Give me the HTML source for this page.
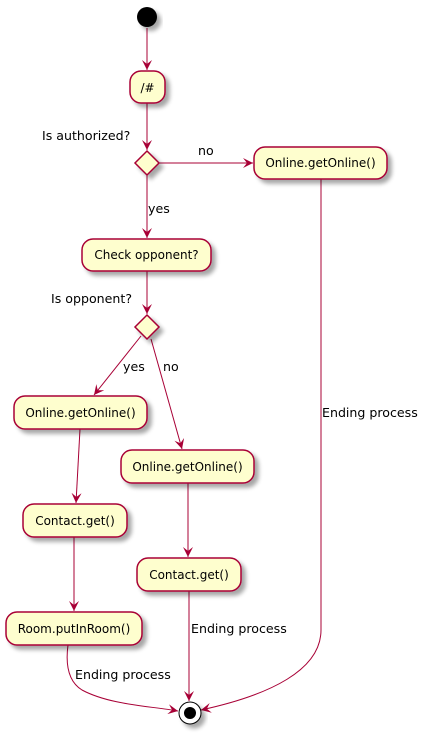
<!DOCTYPE html>
<html><head><meta charset="utf-8"><style>
html,body{margin:0;padding:0;background:#fff;}
svg text{font-family:"DejaVu Sans","Liberation Sans",sans-serif;}
</style></head><body>
<svg width="430" height="735" viewBox="0 0 430 735" xmlns="http://www.w3.org/2000/svg">
<defs>
<filter id="sh" x="-20%" y="-20%" width="150%" height="160%"><feGaussianBlur in="SourceAlpha" stdDeviation="2"/><feOffset dx="4" dy="4"/><feComponentTransfer><feFuncA type="linear" slope="0.35"/></feComponentTransfer><feMerge><feMergeNode/><feMergeNode in="SourceGraphic"/></feMerge></filter>
<marker id="ar" markerWidth="12" markerHeight="12" refX="10" refY="5" orient="auto" markerUnits="userSpaceOnUse"><path d="M0,0 L10,5 L0,10 L4,5 Z" fill="#A80036"/></marker>
</defs>
<g stroke="#A80036" stroke-width="1" fill="none">
<line x1="147" y1="28" x2="147" y2="70" marker-end="url(#ar)"/>
<line x1="147" y1="103" x2="147" y2="150" marker-end="url(#ar)"/>
<line x1="159" y1="163" x2="253" y2="163" marker-end="url(#ar)"/>
<line x1="147" y1="175" x2="147" y2="238" marker-end="url(#ar)"/>
<line x1="147" y1="271" x2="147" y2="314" marker-end="url(#ar)"/>
<line x1="141" y1="336" x2="94" y2="395" marker-end="url(#ar)"/>
<line x1="151" y1="339" x2="182" y2="449" marker-end="url(#ar)"/>
<line x1="80" y1="429" x2="76" y2="503" marker-end="url(#ar)"/>
<line x1="188" y1="483" x2="188" y2="557" marker-end="url(#ar)"/>
<line x1="74" y1="537" x2="74" y2="611" marker-end="url(#ar)"/>
<line x1="189" y1="591" x2="189" y2="701" marker-end="url(#ar)"/>
<path d="M68,645 C66,660 66,680 82,690 C110,705 150,706 178,711" marker-end="url(#ar)"/>
<path d="M321,179 L321,630 C321,670 270,695 201,710" marker-end="url(#ar)"/>
</g>
<circle cx="147" cy="17" r="10" fill="#000" filter="url(#sh)"/>
<g fill="#FEFECE" stroke="#A80036" stroke-width="1.5" filter="url(#sh)">
<rect x="130" y="71" width="35" height="32" rx="11"/>
<polygon points="147,151 159,163 147,175 135,163"/>
<rect x="254" y="147" width="133" height="32" rx="11"/>
<rect x="82" y="239" width="129" height="32" rx="11"/>
<polygon points="147,315 159,327 147,339 135,327"/>
<rect x="14" y="396" width="133" height="33" rx="11"/>
<rect x="121" y="450" width="133" height="33" rx="11"/>
<rect x="23" y="504" width="104" height="33" rx="11"/>
<rect x="137" y="558" width="104" height="33" rx="11"/>
<rect x="6" y="612" width="136" height="33" rx="11"/>
</g>
<circle cx="190" cy="713" r="11" fill="#fff" stroke="#000" stroke-width="1" filter="url(#sh)"/>
<circle cx="190" cy="713" r="6" fill="#000"/>
<g font-size="12" fill="#000" text-anchor="middle">
<text x="147.5" y="92">/#</text>
<text x="320.5" y="167">Online.getOnline()</text>
<text x="146.5" y="259">Check opponent?</text>
<text x="80.5" y="417">Online.getOnline()</text>
<text x="187.5" y="471">Online.getOnline()</text>
<text x="75" y="525">Contact.get()</text>
<text x="189" y="579">Contact.get()</text>
<text x="74" y="633">Room.putInRoom()</text>
</g>
<g font-size="12.6" fill="#000">
<text x="42" y="140">Is authorized?</text>
<text x="198" y="155">no</text>
<text x="148" y="213">yes</text>
<text x="51" y="303">Is opponent?</text>
<text x="123" y="371">yes</text>
<text x="163" y="371">no</text>
<text x="322" y="417">Ending process</text>
<text x="191" y="633">Ending process</text>
<text x="75" y="679">Ending process</text>
</g>
</svg>
</body></html>
